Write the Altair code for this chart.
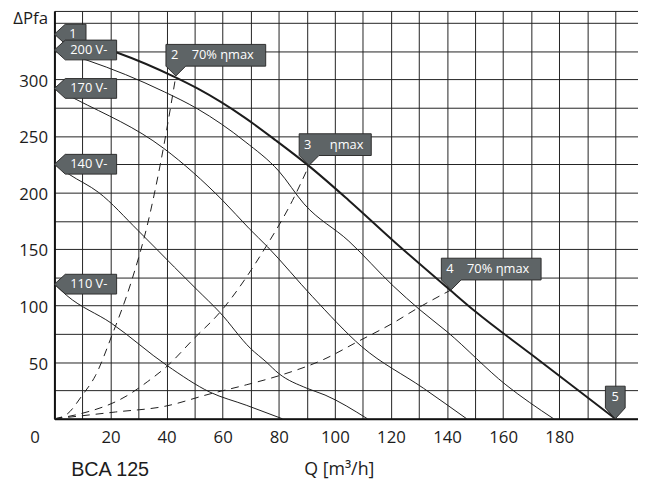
import altair as alt
import pandas as pd

# ---- data ----
max_q = [0, 22, 43, 51, 68, 79, 90.5, 105, 121, 141, 150, 170, 200]
max_p = [340, 324, 302, 292, 266, 246, 224, 193, 157, 114, 95, 57, 0]

v200_q = [0, 11.6, 39.2, 51, 68, 80, 89, 105, 121, 130, 140, 161, 178]
v200_p = [326, 317, 289, 274, 245, 219, 190, 157, 117, 97, 77, 30, 0]

v170_q = [0, 8, 39, 60, 69.5, 76, 92, 109.5, 131.6, 147]
v170_p = [292, 282, 239, 193, 168, 152, 108, 64, 27, 0]

v140_q = [0, 5.3, 15.8, 29.8, 42.8, 50.9, 59, 70, 75.4, 80, 90, 96.5, 111.6]
v140_p = [225, 216, 200, 166.5, 134, 114, 94, 62, 50.5, 40, 27, 21, 0]

v110_q = [0, 4.4, 20.3, 40.2, 55.5, 68.4, 81.3]
v110_p = [119, 109, 84.5, 47, 23.5, 12, 0]

eff2_q = [0, 4.3, 10, 14.6, 20.4, 27.4, 33.3, 38, 43.3]
eff2_p = [0, 3.7, 21, 38, 73, 121, 173, 228, 303]
eff3_q = [0, 7.7, 26.3, 33.3, 40.4, 49.8, 59, 75.4, 84.9, 90.8]
eff3_p = [0, 3.5, 21, 33, 47, 71, 94, 152, 193, 224]
eff4_q = [0, 21.8, 39.3, 55.5, 68.4, 80, 96.5, 108, 121, 129, 141.5]
eff4_p = [0, 6, 11, 22, 30, 38, 53, 68, 85, 97, 114]

volt_labels = ["200 V-", "170 V-", "140 V-", "110 V-"]
volt_p = [326, 292, 225, 119]

point1_label = ["1"]
point1_q = [0]
point1_p = [340]

eff_nums = ["2", "4"]
eff_desc = ["70% ηmax", "70% ηmax"]
eff_q = [43.3, 141.5]
eff_p = [303, 114]

eta_num = ["3"]
eta_desc = ["ηmax"]
eta_q = [90.8]
eta_p = [224]

end_label = ["5"]
end_q = [200]
end_p = [0]

x_ticks = list(range(0, 201, 10))
y_ticks = list(range(0, 351, 25)) + [360.5]


def curve(name, qs, ps):
    return pd.DataFrame({"Q": qs, "P": ps, "curve": name})


df_max = curve("max", max_q, max_p)
df_thin = pd.concat([
    curve("200", v200_q, v200_p),
    curve("170", v170_q, v170_p),
    curve("140", v140_q, v140_p),
    curve("110", v110_q, v110_p),
])
df_dash = pd.concat([
    curve("e2", eff2_q, eff2_p),
    curve("e3", eff3_q, eff3_p),
    curve("e4", eff4_q, eff4_p),
])
df_volt = pd.DataFrame({"Q": [0] * len(volt_p), "P": volt_p, "label": volt_labels})
df_p1 = pd.DataFrame({"Q": point1_q, "P": point1_p, "label": point1_label})
df_eff = pd.DataFrame({"Q": eff_q, "P": eff_p, "num": eff_nums, "desc": eff_desc})
df_eta = pd.DataFrame({"Q": eta_q, "P": eta_p, "num": eta_num, "desc": eta_desc})
df_end = pd.DataFrame({"Q": end_q, "P": end_p, "label": end_label})

INK = "#1c1c1c"
BOX = "#5e6466"
EDGE = "#2e2e2e"
FONT = "Open Sans"

xs = alt.Scale(domain=[0, 208.1], nice=False, zero=False)
ys = alt.Scale(domain=[0, 360.5], nice=False, zero=False)

xaxis = alt.Axis(
    values=x_ticks, grid=True, gridColor="#222", gridWidth=1, ticks=False,
    domainColor="#111", domainWidth=2,
    labelExpr="datum.value % 20 == 0 && datum.value < 200 ? datum.label : ''",
    labelFlush=False,
    labelOffset={"condition": {"test": "datum.value == 0", "value": -20}, "value": 0},
    labelFont=FONT, labelFontSize=17, labelColor=INK, labelPadding=11,
    title="Q [m³/h]", titleFont=FONT, titleFontSize=18, titleFontWeight="normal",
    titleColor=INK, titleX=288, titleY=56, titleAlign="center",
    titleBaseline="alphabetic",
)
yaxis = alt.Axis(
    values=y_ticks, grid=True, gridColor="#222", gridWidth=1, ticks=False,
    domainColor="#111", domainWidth=2,
    labelExpr="datum.value % 50 == 0 && datum.value > 0 && datum.value <= 300 ? datum.label : ''",
    labelFont=FONT, labelFontSize=17, labelColor=INK, labelPadding=7, labelOffset=2,
    title="ΔPfa", titleFont=FONT, titleFontSize=17, titleFontWeight="normal",
    titleColor=INK, titleAngle=0, titleAlign="right", titleX=-7, titleY=13,
    titleBaseline="alphabetic",
)

X = alt.X("Q:Q", scale=xs, axis=xaxis)
Y = alt.Y("P:Q", scale=ys, axis=yaxis)

thin = alt.Chart(df_thin).mark_line(color=INK, strokeWidth=1, interpolate="monotone").encode(
    x=X, y=Y, detail="curve:N")
dash = alt.Chart(df_dash).mark_line(color=INK, strokeWidth=1, strokeDash=[8, 6],
                                    interpolate="monotone").encode(x=X, y=Y, detail="curve:N")
thick = alt.Chart(df_max).mark_line(color=INK, strokeWidth=2, interpolate="monotone").encode(x=X, y=Y)

TAG_LEFT_NARROW = "M0,0 L11,-10 L32,-10 L32,10 L11,10 Z"
TAG_LEFT = "M0,0 L11,-10 L63,-10 L63,10 L11,10 Z"
TAG_DOWN_WIDE = "M0,0 L-10,-10 L-10,-32 L91,-32 L91,-10 L10,-10 Z"
TAG_DOWN_MID = "M0,0 L-10,-10 L-10,-32 L63,-32 L63,-10 L10,-10 Z"
TAG_DOWN_SMALL = "M0,0 L-10,-11 L-10,-33 L10,-33 L10,-11 Z"


def box(df, path):
    return alt.Chart(df).mark_point(shape=path, size=4, filled=True, fill=BOX, stroke=EDGE,
                                    strokeWidth=1, opacity=1).encode(x=X, y=Y)


def txt(df, field, dx, dy, align="left"):
    return alt.Chart(df).mark_text(align=align, baseline="middle", dx=dx, dy=dy, color="white",
                                   font=FONT, fontSize=13).encode(x=X, y=Y, text=f"{field}:N")


layers = [
    thin, dash, thick,
    box(df_p1, TAG_LEFT_NARROW), txt(df_p1, "label", 15, 0),
    box(df_volt, TAG_LEFT), txt(df_volt, "label", 16, 0),
    box(df_eff, TAG_DOWN_WIDE), txt(df_eff, "num", -5, -21), txt(df_eff, "desc", 16, -21),
    box(df_eta, TAG_DOWN_MID), txt(df_eta, "num", -5, -21), txt(df_eta, "desc", 21, -21),
    box(df_end, TAG_DOWN_SMALL), txt(df_end, "label", 0, -22, align="center"),
]

chart = alt.layer(*layers).properties(
    width=591, height=413,
    padding={"left": 47, "top": 0, "right": 0, "bottom": 59},
    autosize=alt.AutoSizeParams(type="none"),
    title=alt.TitleParams("BCA 125", orient="bottom", anchor="start", frame="group",
                          font="Liberation Sans", fontSize=20, fontWeight="normal",
                          color=INK, dx=17, dy=-22),
).configure_view(stroke=None).configure(background="white")

chart.save("out.html", embed_options={"renderer": "svg", "actions": False})
